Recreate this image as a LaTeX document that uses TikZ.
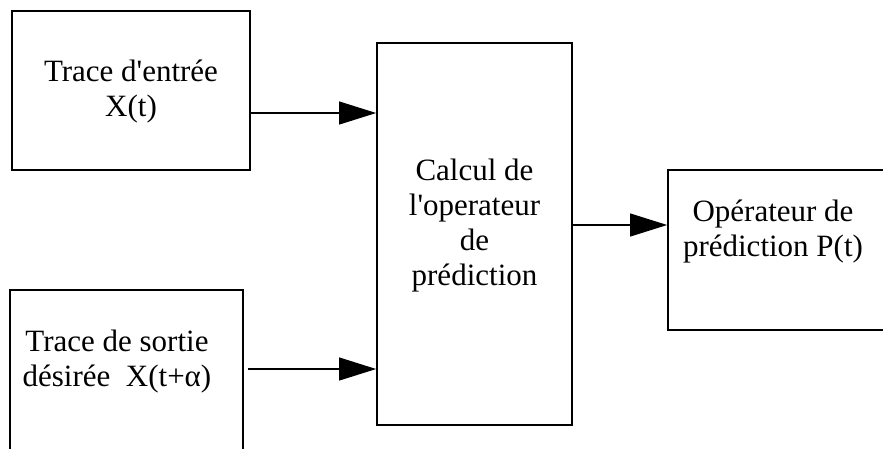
\documentclass[tikz,border=0pt]{standalone}
\usepackage{fontspec}
\setmainfont{Liberation Serif}
\usetikzlibrary{arrows.meta}
\newcommand{\apos}{\textquotesingle}
\begin{document}
\begin{tikzpicture}[x=1pt,y=-1pt,
  box/.style={draw=black,line width=1.8pt,rectangle,inner sep=0pt},
  label/.style={align=center,inner sep=0pt,font=\fontsize{31}{35}\selectfont},
  flow/.style={line width=1.2pt,-{Triangle[length=37pt,width=23pt]}}]
  \useasboundingbox[fill=white] (0,0) rectangle (883,448);
  % input trace
  \node[box,minimum width=238pt,minimum height=159pt] (b1) at (131,90.5) {};
  \node[label] (t1) at (131,92) {Trace d\apos entrée\\X(t)};
  % desired output trace (runs past the lower edge)
  \node[box,minimum width=233pt,minimum height=162pt] (b2) at (126.5,371) {};
  \node[label] (t2) at (117,362) {Trace de sortie\\désirée\ \ X(t+α)};
  % prediction operator computation
  \node[box,minimum width=195pt,minimum height=382pt] (b3) at (474.5,234) {};
  \node[label] (t3) at (474.5,226) {Calcul de\\l\apos operateur\\de\\prédiction};
  % resulting operator (runs past the right edge)
  \node[box,minimum width=220pt,minimum height=160pt] (b4) at (778,250) {};
  \node[label] (t4) at (773,232) {Opérateur de\\prédiction P(t)};
  % connectors
  \coordinate (s2) at (248,369);
  \draw[flow] (b1.east |- 0,113) -- (b3.west |- 0,113);
  \draw[flow] (s2) -- (b3.west |- s2);
  \draw[flow] (b3.east |- 0,225) -- (b4.west |- 0,225);
\end{tikzpicture}
\end{document}
